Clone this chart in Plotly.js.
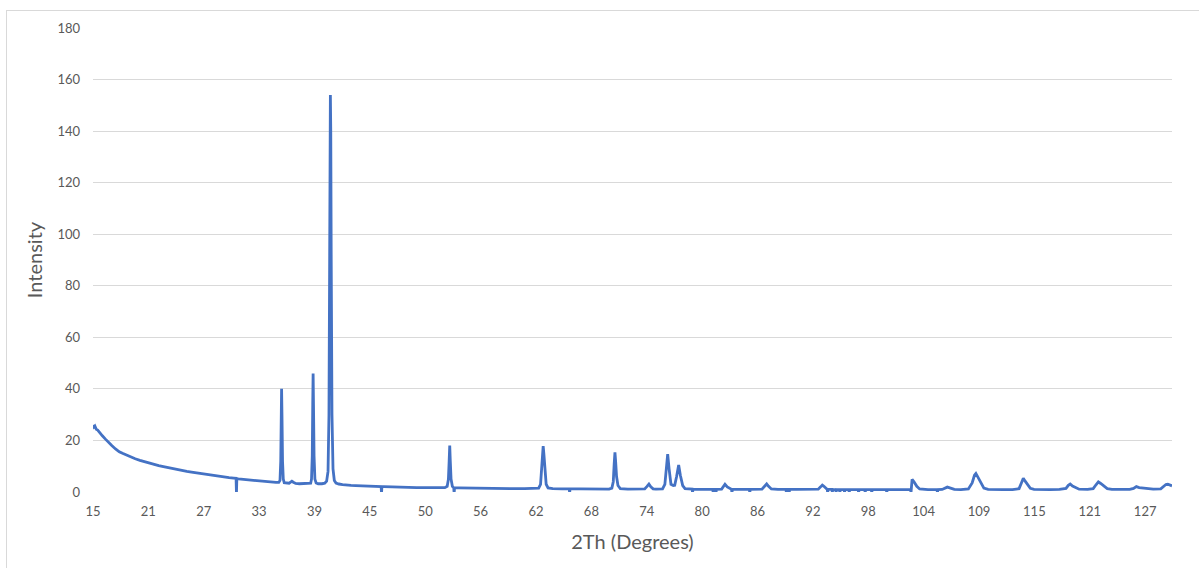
<!DOCTYPE html>
<html>
<head>
<meta charset="utf-8">
<script src="https://cdn.plot.ly/plotly-3.0.1.min.js"></script>
<style>
  html, body { margin: 0; padding: 0; width: 1199px; height: 568px; overflow: hidden; background: #ffffff; }
  #frame { position: absolute; left: 6px; top: 10px; width: 1300px; height: 700px;
           border-left: 1px solid #d9d9d9; border-top: 1px solid #d9d9d9; }
  #chart { position: absolute; left: 0; top: 0; width: 1199px; height: 568px; }
</style>
</head>
<body>
<div id="frame"></div>
<div id="chart"></div>
<script>
// 2-theta positions (degrees)
const twoTheta = [
  15.0, 15.1, 15.2, 15.35, 15.5, 15.7, 16.0, 16.3, 16.6, 17.0, 17.4, 17.8, 18.2, 18.6, 19.0, 19.5,
  20.0, 20.5, 21.0, 21.5, 22.0, 22.5, 23.0, 23.5, 24.0, 24.5, 25.0, 25.5, 26.0, 26.5, 27.0, 27.5,
  28.0, 28.5, 29.0, 29.5, 30.0, 30.25, 30.29, 30.33, 30.5, 31.0, 31.5, 32.0, 32.5, 33.0, 33.5, 34.0,
  34.5, 34.8, 34.93, 35.01, 35.07, 35.1, 35.14, 35.2, 35.28, 35.38, 35.6, 35.9, 36.1, 36.2, 36.35, 36.6,
  37.0, 37.5, 38.0, 38.2, 38.29, 38.37, 38.42, 38.46, 38.5, 38.56, 38.65, 38.78, 39.0, 39.4, 39.7, 39.9,
  40.05, 40.15, 40.22, 40.27, 40.3, 40.34, 40.39, 40.47, 40.58, 40.72, 40.9, 41.2, 41.6, 42.0, 42.5, 43.0,
  43.5, 44.0, 44.5, 45.0, 45.5, 45.71, 45.75, 45.79, 46.0, 46.5, 47.0, 47.5, 48.0, 48.5, 49.0, 49.5,
  50.0, 50.5, 51.0, 51.5, 52.0, 52.5, 52.75, 52.88, 52.96, 53.02, 53.08, 53.16, 53.3, 53.45, 53.49, 53.53,
  54.0, 55.0, 56.0, 57.0, 58.0, 59.0, 60.0, 61.0, 62.0, 62.5, 62.7, 62.82, 62.92, 62.98, 63.05, 63.15,
  63.3, 63.5, 64.0, 65.0, 65.76, 65.8, 65.84, 67.0, 68.0, 69.0, 70.0, 70.3, 70.45, 70.55, 70.63, 70.7,
  70.8, 70.95, 71.2, 72.0, 73.0, 73.8, 74.05, 74.25, 74.45, 74.7, 75.0, 75.7, 75.95, 76.1, 76.25, 76.4,
  76.6, 76.85, 77.0, 77.2, 77.42, 77.6, 77.85, 78.1, 78.5, 78.86, 78.9, 78.94, 80.0, 81.0, 81.06, 81.1,
  81.14, 81.36, 81.4, 81.44, 82.0, 82.2, 82.36, 82.6, 82.9, 83.06, 83.1, 83.14, 84.0, 84.96, 85.0, 85.04,
  86.3, 86.6, 86.8, 87.0, 87.3, 88.0, 88.86, 88.9, 88.94, 89.16, 89.2, 89.24, 90.0, 91.0, 92.3, 92.55,
  92.73, 92.9, 93.1, 93.26, 93.3, 93.34, 93.76, 93.8, 93.84, 94.16, 94.2, 94.24, 94.56, 94.6, 94.64, 95.06,
  95.1, 95.14, 95.56, 95.6, 95.64, 96.56, 96.6, 96.64, 97.26, 97.3, 97.34, 97.96, 98.0, 98.04, 99.56, 99.6,
  99.64, 100.0, 101.0, 102.0, 102.14, 102.18, 102.22, 102.3, 102.5, 102.8, 103.1, 103.5, 104.0, 104.96, 105.0, 105.04,
  105.5, 105.8, 106.05, 106.4, 106.8, 107.5, 108.3, 108.7, 108.95, 109.1, 109.3, 109.6, 109.95, 110.4, 111.0, 112.0,
  113.0, 113.7, 113.95, 114.15, 114.35, 114.6, 114.9, 115.3, 116.0, 117.0, 118.0, 118.7, 118.95, 119.15, 119.4, 119.7,
  120.1, 121.0, 121.6, 121.9, 122.15, 122.4, 122.7, 123.1, 123.6, 124.5, 125.5, 125.9, 126.2, 126.5, 126.9, 127.3,
  128.0, 128.8, 129.1, 129.35, 129.55, 129.75, 130.0
];

// measured intensity at each position
const intensity = [
  26.0, 25.2, 25.6, 24.3, 24.0, 23.0, 21.8, 20.6, 19.4, 18.0, 16.7, 15.6, 14.9, 14.2, 13.6, 12.9,
  12.3, 11.7, 11.2, 10.7, 10.2, 9.8, 9.4, 9.0, 8.7, 8.3, 8.0, 7.7, 7.4, 7.2, 6.9, 6.6,
  6.4, 6.1, 5.9, 5.6, 5.4, 5.3, -0.5, 5.2, 5.1, 4.9, 4.7, 4.5, 4.3, 4.1, 3.9, 3.8,
  3.7, 3.7, 4.5, 12, 30, 40, 30, 12, 5, 3.6, 3.4, 3.4, 3.9, 4.2, 3.8, 3.3,
  3.2, 3.2, 3.2, 3.4, 5, 14, 34, 46, 34, 14, 5, 3.5, 3.2, 3.2, 3.4, 4.2,
  8, 30, 90, 140, 154, 140, 90, 30, 9, 4.5, 3.5, 3.1, 2.9, 2.7, 2.6, 2.5,
  2.4, 2.3, 2.3, 2.2, 2.2, 2.1, -0.5, 2.1, 2.1, 2.0, 2.0, 1.9, 1.9, 1.8, 1.8, 1.7,
  1.7, 1.7, 1.6, 1.6, 1.6, 1.7, 2.2, 5, 12, 18, 12, 5, 2.2, 1.6, -0.5, 1.6,
  1.6, 1.5, 1.5, 1.4, 1.4, 1.4, 1.3, 1.3, 1.3, 1.5, 3, 9, 16, 17.8, 15, 8,
  3, 1.6, 1.3, 1.2, 1.2, -0.3, 1.2, 1.2, 1.2, 1.1, 1.1, 1.5, 4, 11, 15.4, 12,
  6, 2.5, 1.3, 1.1, 1.1, 1.2, 2.2, 3.1, 2.0, 1.2, 1.1, 1.2, 3, 9, 14.7, 9,
  3, 2.5, 2.6, 6, 10.5, 6.5, 2.5, 1.3, 1.1, 1.1, -0.3, 1.1, 1.0, 1.0, 1.0, -0.3,
  1.0, 1.0, -0.3, 1.0, 1.1, 2.0, 3.0, 2.0, 1.2, 1.0, -0.3, 1.0, 1.0, 1.0, -0.3, 1.0,
  1.1, 2.2, 3.1, 2.2, 1.2, 1.0, 1.0, -0.3, 1.0, 1.0, -0.3, 1.0, 1.0, 1.0, 1.1, 2.0,
  2.7, 2.2, 1.4, 1.0, -0.3, 1.0, 1.0, -0.3, 1.0, 0.9, -0.3, 0.9, 0.9, -0.3, 0.9, 0.9,
  -0.3, 0.9, 0.9, -0.3, 0.9, 0.9, -0.3, 0.9, 0.9, -0.3, 0.9, 0.9, -0.3, 0.9, 0.9, -0.3,
  0.9, 0.9, 0.9, 1.0, 1.0, -0.3, 3.5, 4.9, 4.0, 2.2, 1.2, 1.0, 0.9, 0.9, -0.3, 0.9,
  1.0, 1.6, 1.9, 1.5, 1.0, 0.9, 1.2, 3.5, 6.5, 7.2, 5.8, 3.5, 1.5, 1.0, 0.9, 0.9,
  0.9, 1.3, 3.5, 5.3, 4.2, 3.0, 1.4, 1.0, 0.9, 0.9, 1.0, 1.4, 2.6, 3.1, 2.3, 1.7,
  1.1, 1.0, 1.3, 2.8, 3.9, 3.3, 2.3, 1.3, 1.0, 0.9, 1.0, 1.4, 2.1, 1.7, 1.5, 1.2,
  1.1, 1.2, 2.0, 2.9, 3.0, 2.6, 2.4
];

// category-axis labels as shown under the axis
const xTickLabels = ['15','21','27','33','39','45','50','56','62','68','74','80','86','92','98','104','109','115','121','127'];
const xTickStep = 5.902;
const yTickValues = [0, 20, 40, 60, 80, 100, 120, 140, 160, 180];

const xTickVals = xTickLabels.map((_, i) => 15 + i * xTickStep);

const font = 'Lato, "Open Sans", sans-serif';

Plotly.newPlot('chart', [{
  x: twoTheta,
  y: intensity,
  type: 'scatter',
  mode: 'lines',
  line: { color: '#4472C4', width: 2.8 },
  hoverinfo: 'x+y'
}], {
  width: 1199,
  height: 568,
  paper_bgcolor: 'rgba(0,0,0,0)',
  plot_bgcolor: 'rgba(0,0,0,0)',
  margin: { l: 93, r: 27, t: 28, b: 76, pad: 0 },
  showlegend: false,
  font: { family: font, color: '#595959', size: 13 },
  xaxis: {
    range: [15, 130],
    tickmode: 'array',
    tickvals: xTickVals,
    ticktext: xTickLabels,
    showgrid: false,
    zeroline: false,
    showline: false,
    ticks: '',
    ticklabelstandoff: 10,
    tickfont: { family: font, size: 13, color: '#595959' },
    title: { text: '2Th (Degrees)', font: { family: font, size: 20, color: '#595959' }, standoff: 16 }
  },
  yaxis: {
    range: [0, 180],
    tickmode: 'array',
    tickvals: yTickValues,
    showgrid: true,
    gridcolor: '#d9d9d9',
    gridwidth: 1,
    zeroline: false,
    showline: false,
    ticks: '',
    ticklabelstandoff: 12,
    tickfont: { family: font, size: 13, color: '#595959' },
    title: { text: 'Intensity', font: { family: font, size: 20, color: '#595959' }, standoff: 9 }
  }
}, { displayModeBar: false, staticPlot: true });
</script>
</body>
</html>
